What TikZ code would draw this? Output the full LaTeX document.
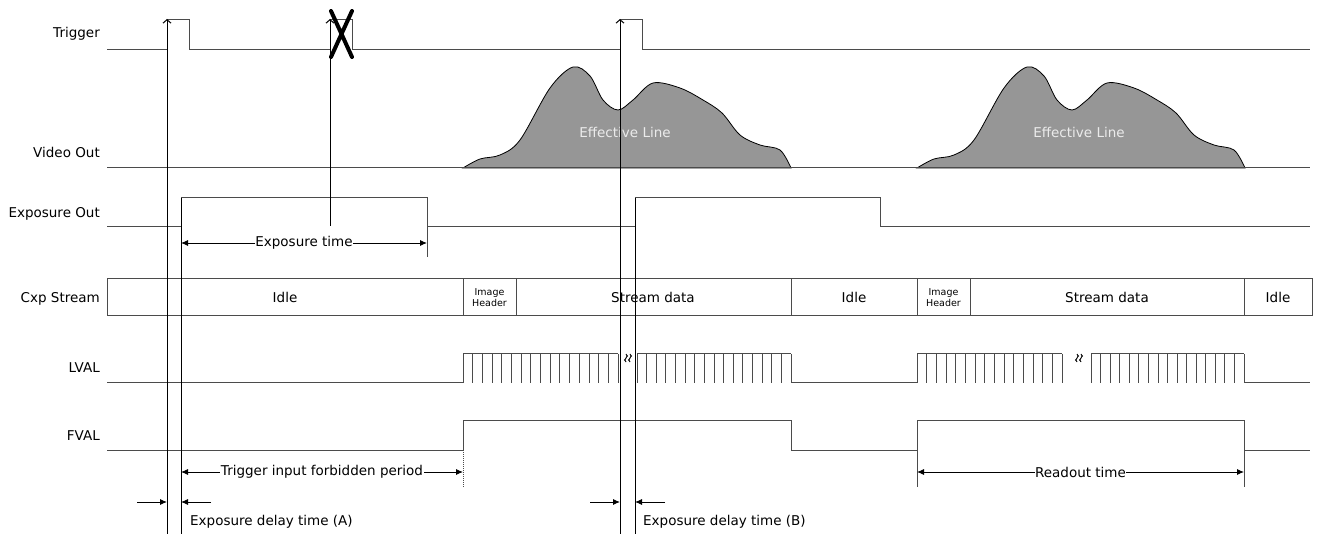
\documentclass[tikz,border=0pt]{standalone}
\usepackage{fontspec}
\setmainfont{DejaVu Sans}
\usetikzlibrary{arrows.meta}

\definecolor{effgray}{RGB}{150,150,150}
\definecolor{sigline}{RGB}{75,75,75}

\tikzset{
  sig/.style={draw=sigline, line width=1pt},
  tooth/.style={draw=sigline, line width=0.8pt},
  edgeline/.style={draw=black, line width=1pt},
  trig/.style={edgeline, -{Straight Barb[length=3.5pt,width=8pt]}},
  dimarrow/.style={draw=black, line width=0.9pt, {Latex[length=7pt,width=6pt]}-{Latex[length=7pt,width=6pt]}},
  delay/.style={draw=black, line width=0.9pt, -{Latex[length=7pt,width=6pt]}},
  txt/.style={inner sep=0pt, font=\fontsize{13.5}{16}\selectfont},
  siglbl/.style={txt, anchor=base east},
  dimlbl/.style={txt, fill=white, inner xsep=0.5pt, inner ysep=1pt},
  hdrlbl/.style={inner sep=0pt, align=center, font=\fontsize{9.5}{11}\selectfont},
  efflbl/.style={txt, anchor=base, text=black!8},
  brk/.style={draw=black, line width=0.9pt}
}

\newcommand{\comb}[3]{%
  \draw[sig] (#1,354) -- (#2,354);
  \foreach \k in {0,...,#3}
    \draw[tooth] ({#1+(#2-#1)*\k/#3},354) -- ++(0,29);
}

\newcommand{\squiggle}[1]{%
  \foreach \d in {-2,2}
    \draw[brk] (#1+\d,354) sin (#1+\d+1.5,356) cos (#1+\d,358)
      sin (#1+\d-1.5,360) cos (#1+\d,362);
}

\newcommand{\effline}[2]{%
  \begin{scope}[xshift=#1pt]
    \filldraw[fill=effgray, draw=black, line width=0.8pt]
      plot[smooth, tension=0.55] coordinates {(463,168) (480,159) (500,155) (520,140)
        (550,88) (573,67) (590,76) (603,100) (618,110) (633,100) (653,83) (680,88)
        (703,100) (722,113) (740,135) (760,145) (780,150) (791,168)} -- cycle;
    \node[efflbl] (#2) at (625,138) {Effective Line};
  \end{scope}
}

\begin{document}
\begin{tikzpicture}[x=1pt, y=-1pt]
  \useasboundingbox (0,0) rectangle (1320,534);

  \node[siglbl] (ntrig) at (100,38) {Trigger};
  \node[siglbl] (nvideo) at (100,158) {Video Out};
  \node[siglbl] (nexpo) at (100,218) {Exposure Out};
  \node[siglbl] (ncxp) at (100,303) {Cxp Stream};
  \node[siglbl] (nlval) at (100,373) {LVAL};
  \node[siglbl] (nfval) at (100,440) {FVAL};

  % video out
  \effline{0}{effA}
  \effline{454}{effB}
  \draw[sig] (107,168) -- (1310,168);

  % trigger
  \draw[sig] (107,50) -- (167,50) (167,20) -- (189,20) -- (189,50) -- (330,50)
    (330,20) -- (352,20) -- (352,50) -- (620,50)
    (620,20) -- (642,20) -- (642,50) -- (1310,50);

  % exposure out
  \draw[sig] (107,227) -- (181,227) -- (181,198) -- (427,198) -- (427,257)
    (427,227) -- (635,227) -- (635,198) -- (880,198) -- (880,227) -- (1310,227);
  \coordinate (expS) at (181,243);
  \coordinate (expE) at (427,243);
  \draw[dimarrow] (expS) -- node[dimlbl] (lblexp) {Exposure time} (expE);

  % cxp stream
  \draw[sig] (107,279) rectangle (1312,316);
  \foreach \x in {463,516,791,917,970,1244}
    \draw[sig] (\x,279) -- (\x,316);
  \foreach \x/\t in {285/Idle, 653/Stream data, 854/Idle, 1107/Stream data, 1278/Idle}
    \node[txt, anchor=base] (cxp\x) at (\x,303) {\t};
  \node[hdrlbl] (hdrA) at (489.5,297.5) {Image\\Header};
  \node[hdrlbl] (hdrB) at (943.5,297.5) {Image\\Header};

  % lval
  \draw[sig] (107,383) -- (463,383) (791,383) -- (917,383) (1244,383) -- (1310,383);
  \comb{463}{618}{16}
  \comb{637}{791}{16}
  \comb{917}{1062}{15}
  \comb{1091}{1244}{16}
  \squiggle{628}
  \squiggle{1079}

  % fval
  \draw[sig] (107,450) -- (463,450) -- (463,421) -- (791,421) -- (791,450) -- (917,450)
    -- (917,421) -- (1244,421) -- (1244,450) -- (1310,450);
  \draw[sig] (917,450) -- (917,487) (1244,450) -- (1244,487);
  \draw[sigline, line width=1pt, densely dotted] (463,450) -- (463,487);

  \coordinate (forbS) at (181,472);
  \coordinate (forbE) at (463,472);
  \draw[dimarrow] (forbS) -- node[dimlbl] (lblforb) {Trigger input forbidden period} (forbE);
  \coordinate (readS) at (917,472);
  \coordinate (readE) at (1244,472);
  \draw[dimarrow] (readS) -- node[dimlbl] (lblread) {Readout time} (readE);

  % exposure delays
  \coordinate (dAl) at (137,502);
  \coordinate (dAa) at (167,502);
  \coordinate (dAb) at (181,502);
  \coordinate (dAr) at (211,502);
  \draw[delay] (dAl) -- (dAa);
  \draw[delay] (dAr) -- (dAb);
  \node[txt, anchor=base west] (lbldA) at (190,525) {Exposure delay time (A)};
  \coordinate (dBl) at (590,502);
  \coordinate (dBa) at (620,502);
  \coordinate (dBb) at (635,502);
  \coordinate (dBr) at (665,502);
  \draw[delay] (dBl) -- (dBa);
  \draw[delay] (dBr) -- (dBb);
  \node[txt, anchor=base west] (lbldB) at (643,525) {Exposure delay time (B)};

  % trigger edges
  \draw[trig] (167,534) -- (167,19);
  \draw[trig] (620,534) -- (620,19);
  \draw[trig] (330,226) -- (330,19);
  \draw[edgeline] (181,534) -- (181,198);
  \draw[edgeline] (635,534) -- (635,198);
  \draw[line width=4pt, line cap=round] (331,11) -- (352,57) (352,11) -- (331,57);
\end{tikzpicture}
\end{document}
